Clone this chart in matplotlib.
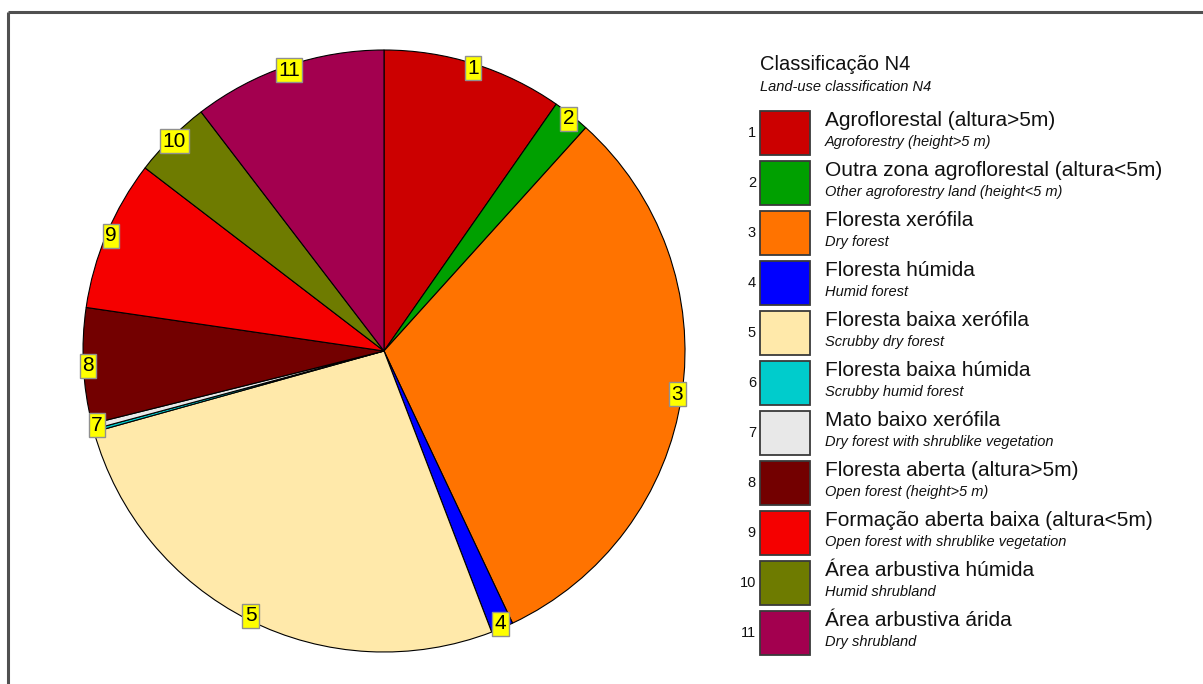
import numpy as np
import matplotlib
matplotlib.use("Agg")
import matplotlib.pyplot as plt
from matplotlib.patches import Rectangle

plt.rcParams['font.family'] = ['Liberation Sans', 'DejaVu Sans']

# data (share of each class, %)
numbers = ['1', '2', '3', '4', '5', '6', '7', '8', '9', '10', '11']
shares = [9.7, 2.0, 31.3, 1.2, 26.5, 0.15, 0.3, 6.2, 8.1, 4.2, 10.4]
colors = ['#CC0000', '#00A000', '#FF7300', '#0000FF', '#FFE9AA', '#00CCCC',
          '#E8E8E8', '#730000', '#F50000', '#6E7B00', '#A3004F']
names_pt = ['Agroflorestal (altura>5m)', 'Outra zona agroflorestal (altura<5m)',
            'Floresta xerófila', 'Floresta húmida', 'Floresta baixa xerófila',
            'Floresta baixa húmida', 'Mato baixo xerófila',
            'Floresta aberta (altura>5m)', 'Formação aberta baixa (altura<5m)',
            'Área arbustiva húmida', 'Área arbustiva árida']
names_en = ['Agroforestry (height>5 m)', 'Other agroforestry land (height<5 m)',
            'Dry forest', 'Humid forest', 'Scrubby dry forest',
            'Scrubby humid forest', 'Dry forest with shrublike vegetation',
            'Open forest (height>5 m)', 'Open forest with shrublike vegetation',
            'Humid shrubland', 'Dry shrubland']
title_pt = 'Classificação N4'
title_en = 'Land-use classification N4'
# slice labels visible on the pie (6 is hidden under 7 in the original)
pie_labels = ['1', '2', '3', '4', '5', '', '7', '8', '9', '10', '11']

W, H = 1203, 684
fig = plt.figure(figsize=(W / 100, H / 100), dpi=100)

# pie: centre (384, 351), radius 301 px
cx, cy, r = 384, 351, 301
ax = fig.add_axes([(cx - r) / W, (H - cy - r) / H, 2 * r / W, 2 * r / H])
wedges, _ = ax.pie(shares, colors=colors, startangle=90, counterclock=False,
                   wedgeprops=dict(edgecolor='black', linewidth=0.8))
ax.set_xlim(-1, 1)
ax.set_ylim(-1, 1)
ax.set_aspect('auto')
ax.axis('off')

for w, lab in zip(wedges, pie_labels):
    if not lab:
        continue
    ang = np.deg2rad((w.theta1 + w.theta2) / 2)
    ax.text(0.985 * np.cos(ang), 0.985 * np.sin(ang), lab, ha='center', va='center',
            fontsize=15, zorder=5,
            bbox=dict(boxstyle='square,pad=0.12', facecolor='#FFFF00',
                      edgecolor='#909090', linewidth=1))

# legend + frame in pixel coordinates
lg = fig.add_axes([0, 0, 1, 1], facecolor='none')
lg.set_xlim(0, W)
lg.set_ylim(H, 0)
lg.axis('off')

lg.plot([8, 8], [H, 12], color='#505050', lw=2.2, solid_capstyle='butt')
lg.plot([8, W], [12, 12], color='#505050', lw=2.2, solid_capstyle='butt')

lg.text(760, 65, title_pt, fontsize=14.5, ha='left', va='center', color='#111111')
lg.text(760, 87, title_en, fontsize=10.5, style='italic', ha='left', va='center', color='#111111')

for i in range(len(numbers)):
    top = 111 + 50 * i
    lg.add_patch(Rectangle((760, top), 50, 44, facecolor=colors[i],
                           edgecolor='#3a3a3a', linewidth=1.3))
    lg.text(756, top + 22, numbers[i], fontsize=10.5, ha='right', va='center', color='#111111')
    lg.text(825, top + 10, names_pt[i], fontsize=15, ha='left', va='center', color='#111111')
    lg.text(825, top + 31, names_en[i], fontsize=10.5, style='italic', ha='left',
            va='center', color='#111111')

fig.savefig('out.png', dpi=100, facecolor='white')
